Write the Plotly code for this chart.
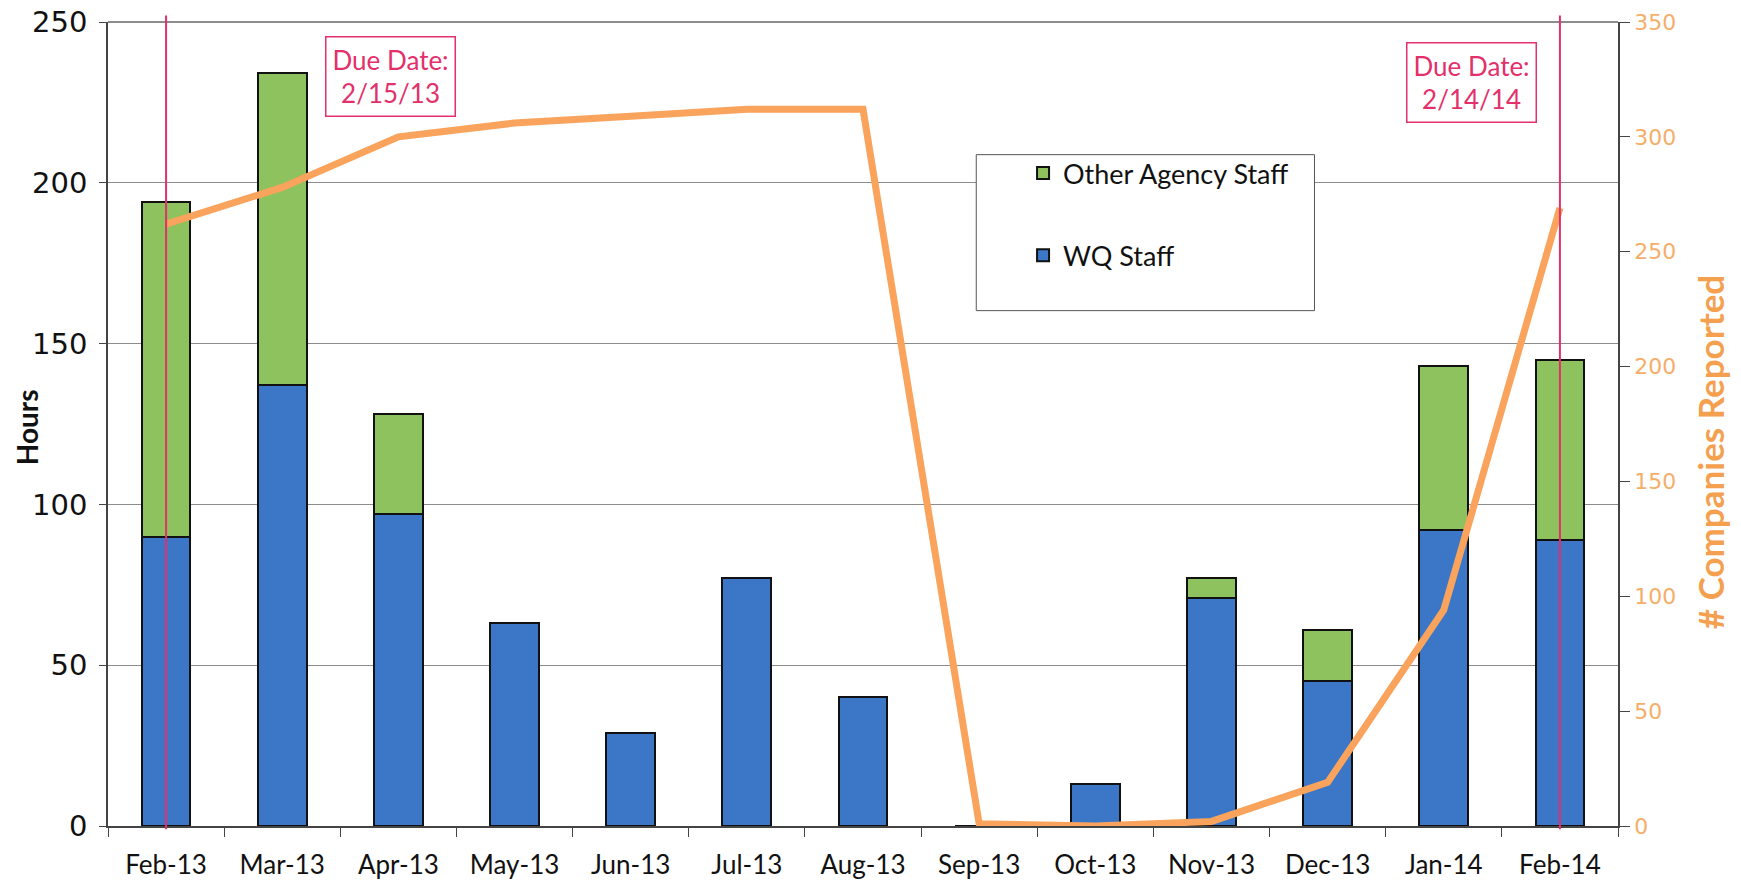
import plotly.graph_objects as go

months = ["Feb-13", "Mar-13", "Apr-13", "May-13", "Jun-13", "Jul-13", "Aug-13",
          "Sep-13", "Oct-13", "Nov-13", "Dec-13", "Jan-14", "Feb-14"]
wq_staff = [90, 137, 97, 63, 29, 77, 40, 0, 13, 71, 45, 92, 89]
other_staff = [104, 97, 31, 0, 0, 0, 0, 0, 0, 6, 16, 51, 56]
companies = [262, 278, 300, 306, 309, 312, 312, 1, 0, 2, 19, 94, 269]
due_dates = [("Feb-13", "Due Date:<br>2/15/13", 1.93, 0.932),
             ("Feb-14", "Due Date:<br>2/14/14", 11.24, 0.925)]

BLUE = "#3B77C6"
GREEN = "#8EC25E"
ORANGE = "#F9A35C"
RED = "#E3306B"
GRID = "#8C8C8C"
FONT = "Lato"

fig = go.Figure()
fig.add_trace(go.Bar(x=months, y=wq_staff, name="WQ Staff",
                     marker=dict(color=BLUE, line=dict(color="#111111", width=2)),
                     width=0.42, legendgroup="a", legendrank=2))
fig.add_trace(go.Bar(x=months, y=other_staff, name="Other Agency Staff",
                     marker=dict(color=GREEN, line=dict(color="#111111", width=2)),
                     width=0.42, legendgroup="b", legendrank=1))
fig.add_trace(go.Scatter(x=months, y=companies, mode="lines", line=dict(color=ORANGE, width=7),
                         yaxis="y2", showlegend=False, name="# Companies Reported"))

for m, txt, xpos, ypos in due_dates:
    fig.add_shape(type="line", xref="x", yref="paper", x0=m, x1=m, y0=-0.004, y1=1.008,
                  line=dict(color=RED, width=2), layer="above")
    fig.add_annotation(x=xpos, y=ypos, xref="x", yref="paper", text=txt, showarrow=False,
                       xanchor="center", yanchor="middle",
                       font=dict(family=FONT, size=26, color=RED), bordercolor=RED, borderwidth=1.5,
                       borderpad=6, bgcolor="white", align="center")

# axis titles (placed as rotated text)
fig.add_annotation(x=0, y=0.496, xref="paper", yref="paper", xshift=-81, text="<b>Hours</b>",
                   textangle=-90, showarrow=False, xanchor="center", yanchor="middle",
                   font=dict(family=FONT, size=28, color="#111111"))
fig.add_annotation(x=1, y=0.465, xref="paper", yref="paper", xshift=92, text="<b># Companies Reported</b>",
                   textangle=-90, showarrow=False, xanchor="center", yanchor="middle",
                   font=dict(family=FONT, size=35, color="#F5A04F"))

# legend box
fig.add_shape(type="rect", xref="paper", yref="paper", x0=0.575, x1=0.799, y0=0.641, y1=0.835,
              fillcolor="white", line=dict(color="#555555", width=1), layer="above")

fig.update_layout(
    width=1741, height=884,
    margin=dict(l=108, r=123, t=22, b=58),
    paper_bgcolor="white", plot_bgcolor="white",
    barmode="stack", bargap=0.58,
    font=dict(family=FONT, color="#111111"),
    showlegend=True,
    legend=dict(x=0.606, y=0.842, xanchor="left", yanchor="top", bgcolor="rgba(0,0,0,0)",
                traceorder="grouped", tracegroupgap=44,
                font=dict(family=FONT, size=27, color="#111111")),
    xaxis=dict(type="category", tickson="boundaries", ticks="outside", ticklen=9, tickcolor="#444444",
               showline=True, linecolor="#444444", linewidth=1.5, showgrid=False, automargin=False,
               ticklabelstandoff=15,
               tickfont=dict(family=FONT, size=26, color="#111111")),
    yaxis=dict(range=[0, 250], dtick=50, showgrid=True, gridcolor=GRID, gridwidth=1, automargin=False,
               showline=True, linecolor="#444444", linewidth=1.5, ticks="outside", ticklen=7, tickcolor="#444444",
               ticklabelstandoff=6,
               tickfont=dict(family="DejaVu Sans", size=29, color="#111111"),
               zeroline=False),
    yaxis2=dict(range=[0, 350], dtick=50, overlaying="y", side="right", showgrid=False, automargin=False,
                showline=True, linecolor="#444444", linewidth=1.5, ticks="outside", ticklen=10, tickcolor="#444444",
                ticklabelstandoff=0,
                tickfont=dict(family="DejaVu Sans", size=22, color="#F5AE6A"),
                zeroline=False),
)
fig.add_shape(type="line", xref="paper", yref="paper", x0=0, x1=1, y0=1, y1=1,
              line=dict(color="#666666", width=1.5), layer="below")

fig.write_html("out.html", config={"displayModeBar": False},
               post_script="document.body.style.margin='0';document.body.style.overflow='hidden';")
